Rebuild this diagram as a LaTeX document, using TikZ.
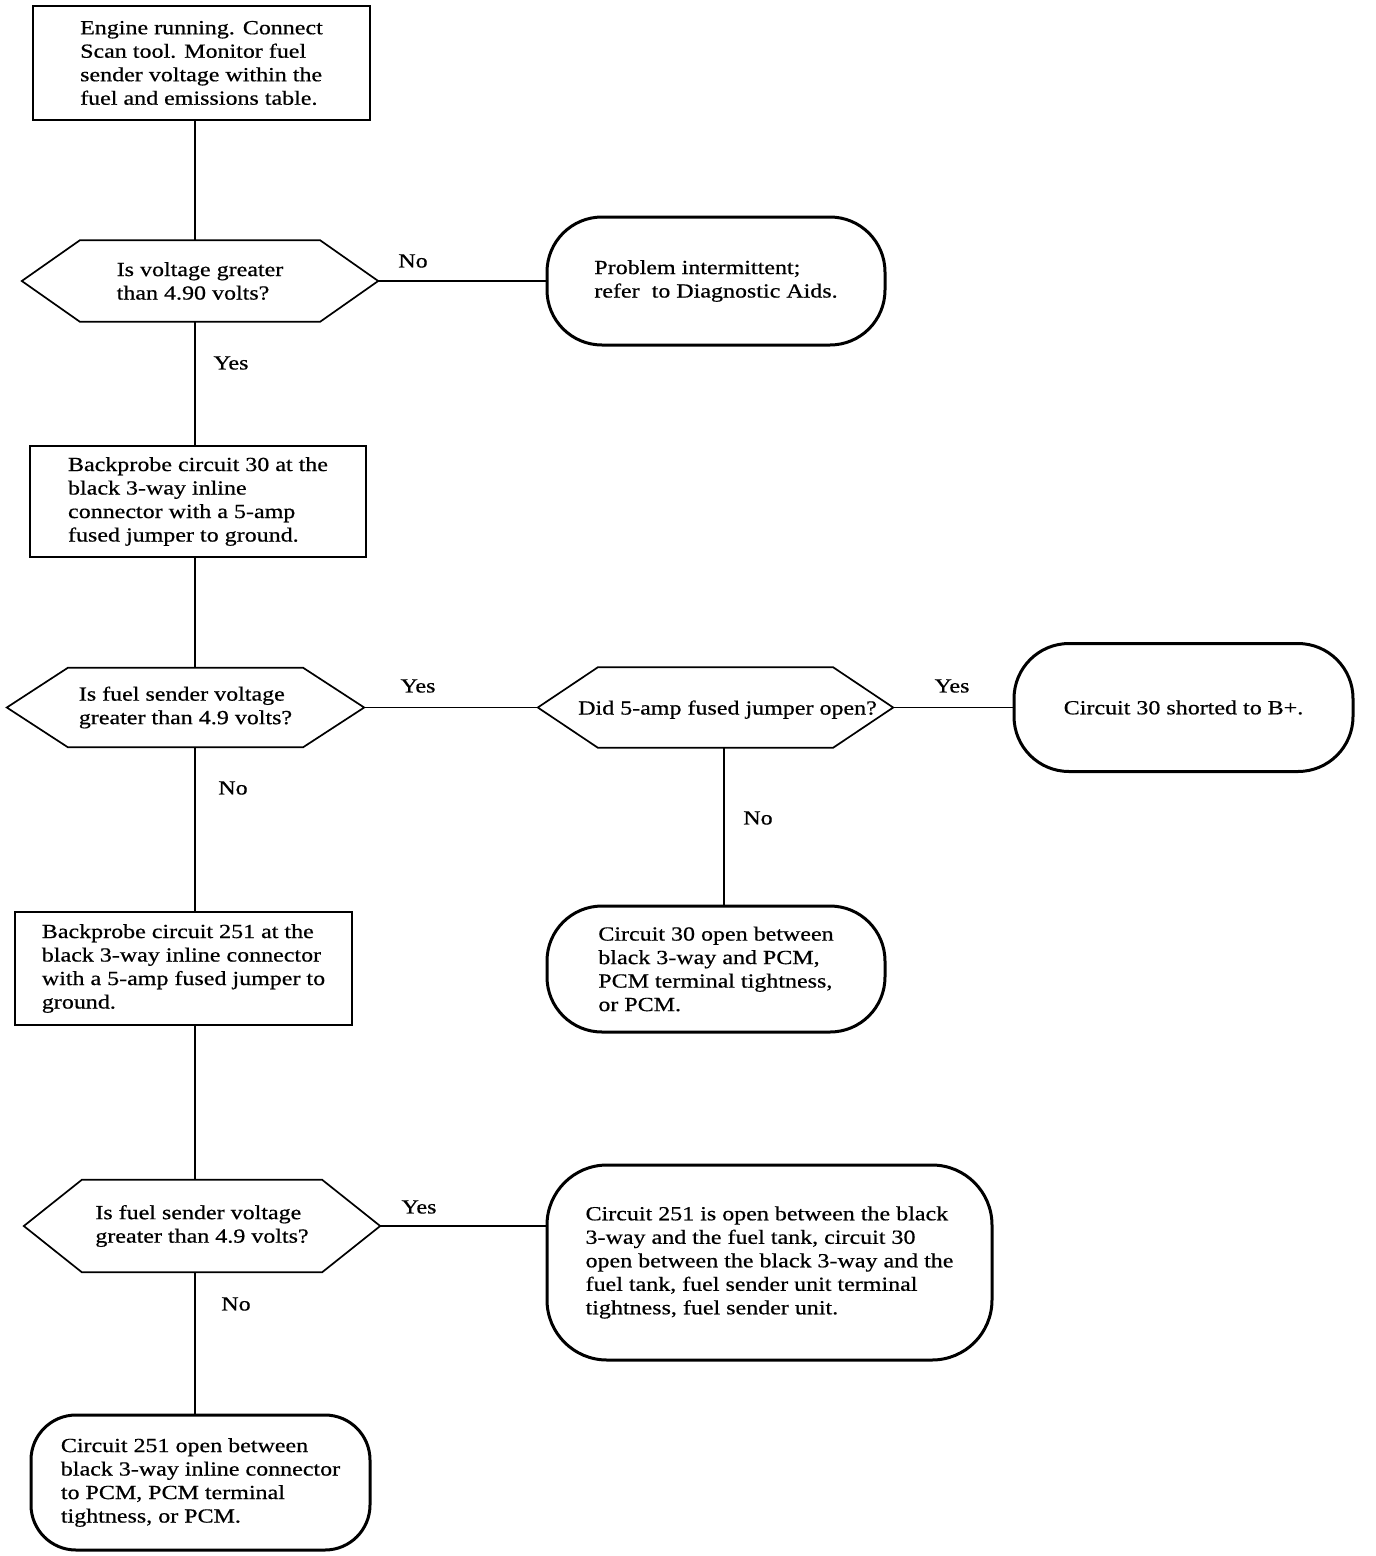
\documentclass[tikz,border=0pt]{standalone}
\usepackage{fontspec}
\setmainfont{Liberation Serif}[FakeStretch=1.2,FakeBold=0.6]
\usetikzlibrary{calc}
\newcommand{\hexdraw}[2]{\draw[hexline] (#1.west) -- ([xshift=#2]#1.north west) -- ([xshift=-#2]#1.north east) -- (#1.east) -- ([xshift=-#2]#1.south east) -- ([xshift=#2]#1.south west) -- cycle;}
\begin{document}
\begin{tikzpicture}[x=1pt,y=-1pt,
  font=\fontsize{20}{23.5}\selectfont,
  procbox/.style={draw, line width=1.6pt, align=left, inner sep=0pt},
  hexbox/.style={draw=none, align=left, inner sep=0pt},
  hexline/.style={line width=1.7pt, line join=miter},
  termbox/.style={draw, line width=3pt, rounded corners=55pt, align=left, inner sep=0pt},
  conn/.style={line width=1.6pt},
  lbl/.style={inner sep=0pt}]
\fill[white] (0,0) rectangle (1376,1556);
\useasboundingbox (0,0) rectangle (1376,1556);

% process boxes
\node[procbox, minimum width=337pt, minimum height=114pt] (box1) at (201.5,63)
  {Engine running. Connect\\Scan tool. Monitor fuel\\sender voltage within the\\fuel and emissions table.};
\node[procbox, minimum width=336pt, minimum height=111pt] (box2) at (198,501.5)
  {Backprobe circuit 30 at the\\black 3-way inline\\connector with a 5-amp\\fused jumper to ground.};
\node[procbox, minimum width=337pt, minimum height=113pt] (box3) at (183.5,968.5)
  {Backprobe circuit 251 at the\\black 3-way inline connector\\with a 5-amp fused jumper to\\ground.};

% decisions
\node[hexbox, minimum width=356pt, minimum height=81pt] (hex1) at (200,281)
  {Is voltage greater\\than 4.90 volts?};
\hexdraw{hex1}{58}
\node[hexbox, minimum width=357pt, minimum height=79pt] (hex2) at (185.5,707.5)
  {Is fuel sender voltage\\greater than 4.9 volts?};
\hexdraw{hex2}{61}
\node[hexbox, minimum width=355pt, minimum height=80pt, text depth=0pt] (hex3) at (715.5,707.5)
  {\hspace*{24pt}Did 5-amp fused jumper open?};
\hexdraw{hex3}{60}
\node[hexbox, minimum width=356pt, minimum height=92pt] (hex4) at (202,1226)
  {Is fuel sender voltage\\greater than 4.9 volts?};
\hexdraw{hex4}{58}

% terminals
\node[termbox, minimum width=338pt, minimum height=128pt] (t1) at (716,281)
  {Problem intermittent;\\refer~ to Diagnostic Aids.};
\node[termbox, minimum width=339pt, minimum height=128pt] (t2) at (1183.5,707.5)
  {Circuit 30 shorted to B+.};
\node[termbox, minimum width=338pt, minimum height=126pt] (t3) at (716,969)
  {Circuit 30 open between\\black 3-way and PCM,\\PCM terminal tightness,\\or PCM.};
\node[termbox, rounded corners=60pt, minimum width=445pt, minimum height=195pt] (t4) at (769.5,1262.5)
  {Circuit 251 is open between the black\\3-way and the fuel tank, circuit 30\\open between the black 3-way and the\\fuel tank, fuel sender unit terminal\\tightness, fuel sender unit.};
\node[termbox, rounded corners=45pt, minimum width=339pt, minimum height=135pt] (t5) at (200.5,1482.5)
  {Circuit 251 open between\\black 3-way inline connector\\to PCM, PCM terminal\\tightness, or PCM.};

% connectors
\coordinate (spine) at (195,0);
\coordinate (branch) at (724,0);
\draw[conn] (box1.south -| spine) -- (hex1.north -| spine);
\draw[conn] (hex1.south -| spine) -- (box2.north -| spine);
\draw[conn] (box2.south -| spine) -- (hex2.north -| spine);
\draw[conn] (hex2.south -| spine) -- (box3.north -| spine);
\draw[conn] (box3.south -| spine) -- (hex4.north -| spine);
\draw[conn] (hex4.south -| spine) -- (t5.north -| spine);
\draw[conn] (hex1.east) -- (t1.west);
\draw[conn] (hex2.east) -- (hex3.west);
\draw[conn] (hex3.east) -- (t2.west);
\draw[conn] (hex3.south -| branch) -- (t3.north -| branch);
\draw[conn] (hex4.east) -- (hex4.east -| t4.west);

% labels
\node[lbl] (l1) at (413,261) {No};
\node[lbl] (l2) at (231,363) {Yes};
\node[lbl] (l3) at (418,686) {Yes};
\node[lbl] (l4) at (952,686) {Yes};
\node[lbl] (l5) at (758,818) {No};
\node[lbl] (l6) at (233,788) {No};
\node[lbl] (l7) at (419,1207) {Yes};
\node[lbl] (l8) at (236,1304) {No};
\end{tikzpicture}
\end{document}
